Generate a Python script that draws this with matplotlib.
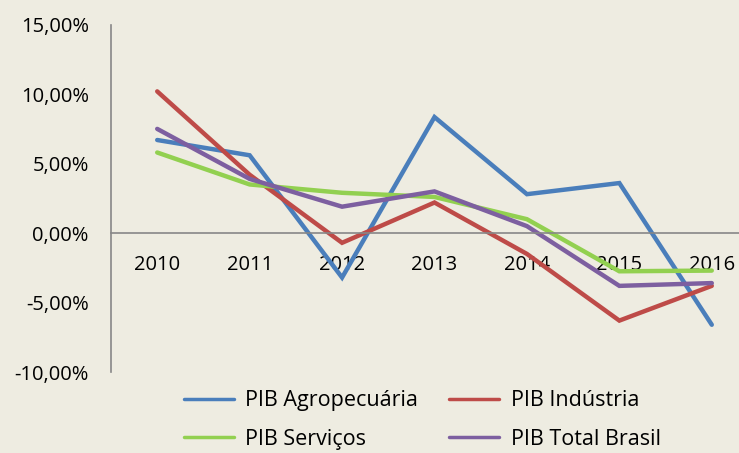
import matplotlib.pyplot as plt
from matplotlib.ticker import FuncFormatter

anos = ['2010', '2011', '2012', '2013', '2014', '2015', '2016']
agro = [6.7, 5.6, -3.2, 8.35, 2.8, 3.6, -6.6]
industria = [10.2, 4.2, -0.7, 2.2, -1.5, -6.3, -3.8]
servicos = [5.8, 3.5, 2.9, 2.6, 1.0, -2.75, -2.7]
total = [7.5, 3.9, 1.9, 3.0, 0.5, -3.8, -3.6]

series = [
    ('PIB Agropecuária', agro, '#4A7EBB'),
    ('PIB Indústria', industria, '#BE4B48'),
    ('PIB Serviços', servicos, '#92D050'),
    ('PIB Total Brasil', total, '#7D5FA0'),
]

bg = '#EEECE1'
plt.rcParams['font.family'] = ['Open Sans', 'DejaVu Sans']

fig = plt.figure(figsize=(7.39, 4.53), dpi=100, facecolor=bg)
ax = fig.add_axes([0.1502, 0.1788, 0.8755, 0.7667])
ax.set_facecolor(bg)

x = range(len(anos))
linhas = []
for nome, vals, cor in series:
    l, = ax.plot(x, vals, color=cor, lw=3.2, label=nome, solid_capstyle='round', solid_joinstyle='miter')
    linhas.append(l)

ax.set_xlim(-0.5, len(anos) - 0.5)
ax.set_ylim(-10, 15)
ax.set_yticks([-10, -5, 0, 5, 10, 15])
ax.yaxis.set_major_formatter(FuncFormatter(lambda v, p: f'{v:.2f}%'.replace('.', ',')))
ax.set_xticks(list(x))
ax.set_xticklabels(anos)

for s in ['top', 'right']:
    ax.spines[s].set_visible(False)
ax.spines['bottom'].set_position(('data', 0))
ax.spines['left'].set_color('#878787')
ax.spines['bottom'].set_color('#878787')
ax.spines['left'].set_linewidth(1.2)
ax.spines['bottom'].set_linewidth(1.2)
ax.spines['left'].set_zorder(0)
ax.tick_params(axis='y', length=0, pad=16, labelsize=14.5)
ax.tick_params(axis='x', length=0, pad=16, labelsize=14.5)

# ordem por linha como no Excel
ordem = [0, 2, 1, 3]
leg = fig.legend([linhas[i] for i in ordem], [series[i][0] for i in ordem],
                 loc='upper left', bbox_to_anchor=(0.249, 0.138), ncol=2, frameon=False,
                 fontsize=15.5, handlelength=2.3, handletextpad=0.55, columnspacing=1.45,
                 labelspacing=0.8, borderaxespad=0, borderpad=0)
for h in leg.get_lines():
    h.set_linewidth(2.5)

fig.savefig('out.png', dpi=100, facecolor=bg)
